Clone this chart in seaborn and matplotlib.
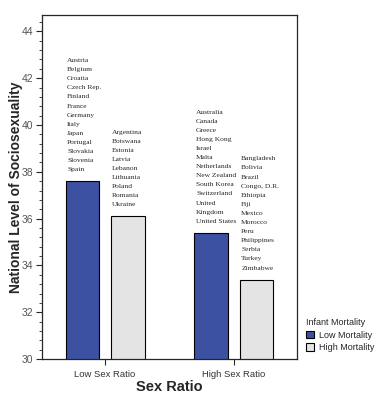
import pandas as pd
import matplotlib
matplotlib.use('Agg')
import matplotlib.pyplot as plt
from matplotlib.ticker import MultipleLocator
import seaborn as sns

# data
sex_ratio = ["Low Sex Ratio", "Low Sex Ratio", "High Sex Ratio", "High Sex Ratio"]
mortality = ["Low Mortality", "High Mortality", "Low Mortality", "High Mortality"]
socio = [37.6, 36.1, 35.4, 33.4]

countries = [
    ["Austria", "Belgium", "Croatia", "Czech Rep.", "Finland", "France", "Germany",
     "Italy", "Japan", "Portugal", "Slovakia", "Slovenia", "Spain"],
    ["Argentina", "Botswana", "Estonia", "Latvia", "Lebanon", "Lithuania", "Poland",
     "Romania", "Ukraine"],
    ["Australia", "Canada", "Greece", "Hong Kong", "Israel", "Malta", "Netherlands",
     "New Zealand", "South Korea", "Switzerland", "United", "Kingdom", "United States"],
    ["Bangladesh", "Bolivia", "Brazil", "Congo, D.R.", "Ethiopia", "Fiji", "Mexico",
     "Morocco", "Peru", "Philippines", "Serbia", "Turkey", "Zimbabwe"],
]

df = pd.DataFrame({"Sex Ratio": sex_ratio, "Infant Mortality": mortality, "socio": socio})

sns.set_style("ticks")
plt.rcParams['font.family'] = ['Liberation Sans', 'DejaVu Sans']

fig = plt.figure(figsize=(3.91, 4.04), dpi=100)
ax = fig.add_axes([0.107, 0.111, 0.653, 0.852])

palette = {"Low Mortality": "#3D51A3", "High Mortality": "#E4E4E4"}
sns.barplot(data=df, x="Sex Ratio", y="socio", hue="Infant Mortality",
            palette=palette, width=0.7, gap=0.25, edgecolor="black",
            linewidth=0.8, saturation=1, ax=ax)

ax.set_ylim(30, 44.7)
ax.set_xlim(-0.49, 1.49)
ax.yaxis.set_major_locator(MultipleLocator(2))
ax.yaxis.set_minor_locator(MultipleLocator(0.4))
ax.tick_params(axis='y', which='major', length=4, width=0.8, pad=2,
               labelsize=7.5, labelcolor="#555555")
ax.tick_params(axis='y', which='minor', length=2, width=0.6)
ax.tick_params(axis='x', length=4, width=0.8, labelsize=6.8, labelcolor="#333333")
for s in ax.spines.values():
    s.set_visible(True)
    s.set_linewidth(0.9)

ax.set_ylabel("National Level of Sociosexuality", fontsize=10, fontweight="bold")
ax.yaxis.set_label_coords(-0.075, 0.5)
ax.set_xlabel("Sex Ratio", fontsize=10.5, fontweight="bold", labelpad=1)

# country lists above bars, one line at a time (line step in points)
step = 6.55
for patch, names in zip(ax.patches[:4], [countries[0], countries[2], countries[1], countries[3]]):
    n = len(names)
    for i, name in enumerate(names):
        ax.annotate(name, xy=(patch.get_x() + 0.012, patch.get_height()),
                    xytext=(0, 7.2 + (n - 1 - i) * step), textcoords="offset points",
                    ha="left", va="baseline", fontsize=5.4, family="Liberation Serif")

leg = ax.legend(title="Infant Mortality", loc="upper left", bbox_to_anchor=(1.02, 0.13),
                frameon=False, fontsize=6.5, title_fontsize=6.5, handlelength=0.9,
                handleheight=0.9, handletextpad=0.5, labelspacing=0.4, borderaxespad=0)
leg._legend_box.align = "left"
for h in leg.legend_handles:
    h.set_edgecolor("black")

fig.savefig("out.png", dpi=100)
